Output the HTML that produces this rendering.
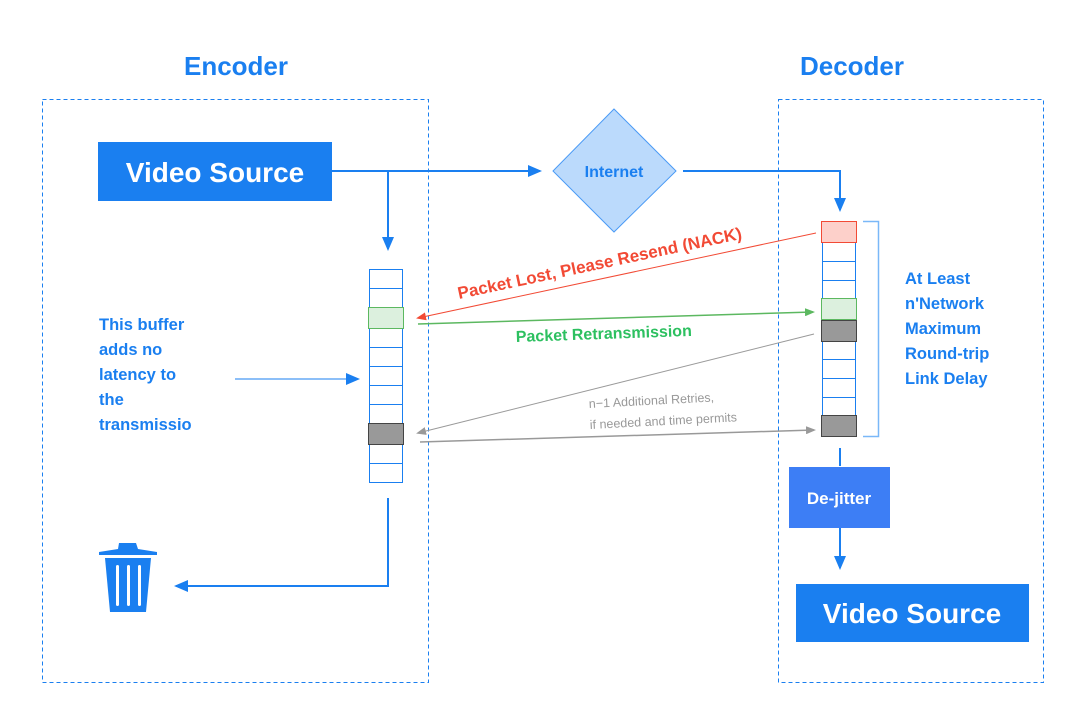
<!DOCTYPE html>
<html><head><meta charset="utf-8"><style>body{margin:0;background:#fff}svg{display:block;font-family:"Liberation Sans",sans-serif}</style></head><body>
<svg width="1080" height="709" viewBox="0 0 1080 709" xmlns="http://www.w3.org/2000/svg">
<defs>
<marker id="ab" markerWidth="14" markerHeight="12" refX="12" refY="6" orient="auto" markerUnits="userSpaceOnUse"><path d="M0,0L14,6L0,12z" fill="#1a7ff0"/></marker>
<marker id="ar" markerWidth="10" markerHeight="8" refX="8" refY="4" orient="auto" markerUnits="userSpaceOnUse"><path d="M0,0L10,4L0,8z" fill="#f24a35"/></marker>
<marker id="ag" markerWidth="10" markerHeight="8" refX="8" refY="4" orient="auto" markerUnits="userSpaceOnUse"><path d="M0,0L10,4L0,8z" fill="#5cb860"/></marker>
<marker id="ay" markerWidth="10" markerHeight="8" refX="8" refY="4" orient="auto" markerUnits="userSpaceOnUse"><path d="M0,0L10,4L0,8z" fill="#999"/></marker>
</defs>
<text x="236" y="75" font-size="26" font-weight="bold" fill="#1a7ff0" text-anchor="middle">Encoder</text>
<text x="852" y="75" font-size="26" font-weight="bold" fill="#1a7ff0" text-anchor="middle">Decoder</text>
<rect x="42.5" y="99.5" width="386" height="583" fill="none" stroke="#1a7ff0" stroke-dasharray="4,3"/>
<rect x="778.5" y="99.5" width="265" height="583" fill="none" stroke="#1a7ff0" stroke-dasharray="4,3"/>
<rect x="98" y="142" width="234" height="59" fill="#1a7ff0"/>
<text x="215" y="182" font-size="28" font-weight="bold" fill="#fff" text-anchor="middle">Video Source</text>
<rect x="796" y="584" width="233" height="58" fill="#1a7ff0"/>
<text x="912" y="623" font-size="28" font-weight="bold" fill="#fff" text-anchor="middle">Video Source</text>
<polygon points="614,109 676,171 614,232 553,171" fill="#bbdafc" stroke="#4a9af5"/>
<text x="614" y="177" font-size="16" font-weight="bold" fill="#1a7ff0" text-anchor="middle">Internet</text>
<g stroke="#1a7ff0" stroke-width="2" fill="none">
<path d="M332,171H540" marker-end="url(#ab)"/>
<path d="M388,171V249" marker-end="url(#ab)"/>
<path d="M683,171H840V210" marker-end="url(#ab)"/>
<path d="M388,498V586H176" marker-end="url(#ab)"/>
<path d="M840,448V466"/>
<path d="M840,528V568" marker-end="url(#ab)"/>
</g>
<path d="M235,379H358" stroke="#1a7ff0" stroke-width="1" marker-end="url(#ar)" style="marker-end:url(#ab)"/>
<g stroke="#1a7ff0" fill="#fff">
<rect x="369.5" y="269.5" width="33" height="213"/>
<path d="M369,288.5H403M369,347.5H403M369,366.5H403M369,385.5H403M369,404.5H403M369,463.5H403"/>
</g>
<rect x="368.5" y="307.5" width="35" height="21" fill="#dcf0de" stroke="#5cb860"/>
<rect x="368.5" y="423.5" width="35" height="21" fill="#999" stroke="#444"/>
<g stroke="#1a7ff0" fill="#fff">
<rect x="822.5" y="221.5" width="33" height="215"/>
<path d="M822,261.5H856M822,280.5H856M822,359.5H856M822,378.5H856M822,397.5H856"/>
</g>
<rect x="821.5" y="221.5" width="35" height="21" fill="#fdd0ca" stroke="#f24a35"/>
<rect x="821.5" y="298.5" width="35" height="21" fill="#dcf0de" stroke="#5cb860"/>
<rect x="821.5" y="320.5" width="35" height="21" fill="#999" stroke="#444"/>
<rect x="821.5" y="415.5" width="35" height="21" fill="#999" stroke="#444"/>
<path d="M863,221.5H878.5V436.5H863" fill="none" stroke="#7ab8f8" stroke-width="1.5"/>
<path d="M816,233L418,318" stroke="#f24a35" marker-end="url(#ar)"/>
<path d="M418,324L813,312" stroke="#5cb860" stroke-width="1.5" marker-end="url(#ag)"/>
<path d="M814,334L418,433" stroke="#999" marker-end="url(#ay)"/>
<path d="M420,442L814,430" stroke="#999" stroke-width="1.5" marker-end="url(#ay)"/>
<text transform="translate(459,299) rotate(-12)" font-size="17" font-weight="bold" fill="#f24a35">Packet Lost, Please Resend (NACK)</text>
<text transform="translate(516,342) rotate(-2)" font-size="16" font-weight="bold" fill="#2dc060">Packet Retransmission</text>
<text transform="translate(589,408) rotate(-3)" font-size="12.5" fill="#999">n−1 Additional Retries,</text>
<text transform="translate(590,429) rotate(-3)" font-size="12.5" fill="#999">if needed and time permits</text>
<g font-size="16.5" font-weight="bold" fill="#1a7ff0">
<text x="99" y="330">This buffer</text><text x="99" y="355">adds no</text><text x="99" y="380">latency to</text><text x="99" y="405">the</text><text x="99" y="430">transmissio</text>
<text x="905" y="284">At Least</text><text x="905" y="309">n'Network</text><text x="905" y="334">Maximum</text><text x="905" y="359">Round-trip</text><text x="905" y="384">Link Delay</text>
</g>
<rect x="789" y="467" width="101" height="61" fill="#3d7ef5"/>
<text x="839" y="504" font-size="17" font-weight="bold" fill="#fff" text-anchor="middle">De-jitter</text>
<g fill="#1a7ff0">
<path d="M119,543H136L138,549L157,552V555H99V552L118,549Z"/>
<path d="M105,558H151L146,612H110Z"/>
</g>
<g fill="#fff"><rect x="116" y="565" width="3" height="41" rx="1.5"/><rect x="127" y="565" width="3" height="41" rx="1.5"/><rect x="138" y="565" width="3" height="41" rx="1.5"/></g>
</svg>
</body></html>
